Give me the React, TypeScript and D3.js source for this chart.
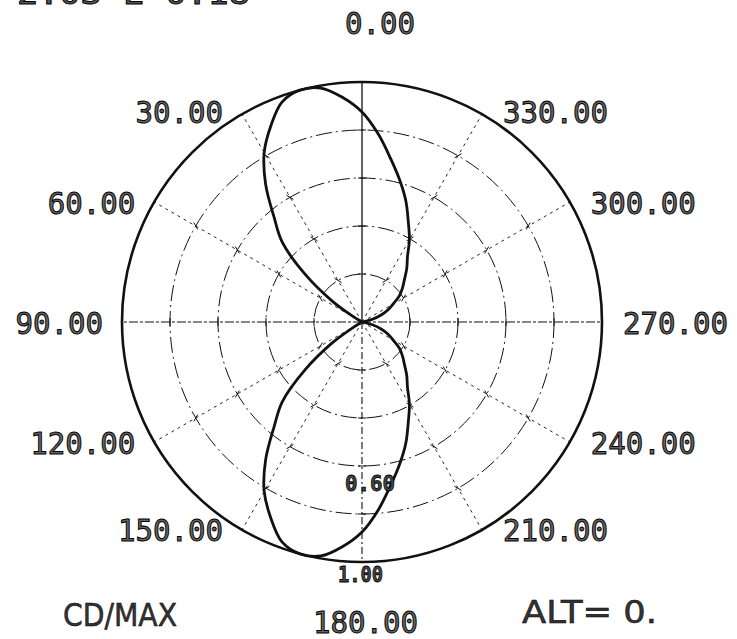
import React from 'react';
import * as d3 from 'd3';

const W = 737;
const H = 639;

// grid rings (fraction of max candela) and spokes (degrees)
const ringValues = [0.2, 0.4, 0.6, 0.8];
const spokeAngles = [0, 30, 60, 90, 120, 150, 180, 210, 240, 270, 300, 330];
const angleLabels = ['0.00', '30.00', '60.00', '90.00', '120.00', '150.00', '180.00', '210.00', '240.00', '270.00', '300.00', '330.00'];

// upper lobe: angle (deg, CCW from top) and CD/MAX
const upperAngles = [-80, -75, -70, -65, -60, -55, -50, -45, -40, -35, -30, -25, -20, -15, -10, -5, 0, 5, 10, 15, 20, 25, 30, 35, 40, 45, 50, 55, 58, 60];
const upperValues = [0, 0.045, 0.085, 0.12, 0.15, 0.19, 0.22, 0.25, 0.29, 0.33, 0.395, 0.457, 0.535, 0.61, 0.69, 0.785, 0.875, 0.94, 0.99, 1.0, 0.975, 0.9, 0.815, 0.7, 0.57, 0.47, 0.31, 0.15, 0.05, 0];

// lower lobe
const lowerAngles = [120, 122, 125, 130, 135, 140, 145, 150, 155, 160, 165, 170, 175, 180, 185, 190, 195, 200, 205, 210, 215, 220, 225, 230, 235, 240, 245, 250, 255, 260];
const lowerValues = [0, 0.05, 0.15, 0.31, 0.47, 0.57, 0.7, 0.815, 0.9, 0.975, 1.0, 0.99, 0.94, 0.875, 0.785, 0.69, 0.61, 0.535, 0.457, 0.395, 0.33, 0.29, 0.25, 0.22, 0.19, 0.15, 0.12, 0.085, 0.045, 0];

const scaleLabels = ['0.60', '1.00'];
const scaleLabelValues = [0.6, 1.0];
const headerText = '2.03   E 0.18';
const footerLeft = 'CD/MAX';
const footerRight = 'ALT= 0.';

const CX = 362;
const CY = 322;
const R = 240;

const rScale = d3.scaleLinear().domain([0, 1]).range([0, R]);
const toRad = (deg: number) => (deg * Math.PI) / 180;
// point in page coords for angle (CCW from top) and value
const pt = (deg: number, v: number): [number, number] => [
  CX - rScale(v) * Math.sin(toRad(deg)),
  CY - rScale(v) * Math.cos(toRad(deg)),
];

const lobe = d3
  .lineRadial<{ a: number; v: number }>()
  .angle((d) => -toRad(d.a))
  .radius((d) => rScale(d.v))
  .curve(d3.curveCatmullRom.alpha(0.5));

const plotFont = '"DejaVu Sans Mono", monospace';

export default function App() {
  const upper = upperAngles.map((a, i) => ({ a, v: upperValues[i] }));
  const lower = lowerAngles.map((a, i) => ({ a, v: lowerValues[i] }));

  const spokeStyle = (a: number) => {
    if (a === 0) return { dash: undefined, w: 1.3 };
    if (a === 180) return { dash: '7 3 2 3', w: 1.1 };
    if (a === 90 || a === 270) return { dash: '9 2 3 2', w: 1.1 };
    return { dash: '3 4', w: 0.9 };
  };

  const labelPos = (a: number, i: number) => {
    const lbl = angleLabels[i];
    const len = lbl.length * 17.5;
    if (a === 0) return { x: 345, y: 22, len };
    if (a === 180) return { x: 313, y: 621, len };
    const [px, py] = pt(a, 1);
    const dy = a === 30 || a === 330 ? -3 : 0;
    if (a < 180) return { x: px - 19 - len, y: py + dy, len };
    return { x: px + 21, y: py + dy, len };
  };

  return (
    <svg width={W} height={H} viewBox={`0 0 ${W} ${H}`} style={{ position: 'absolute', left: 0, top: 0, background: '#fff' }}>
      <rect x={0} y={0} width={W} height={H} fill="#fff" />
      {/* header, cut off at top as in the source scan */}
      <text x={17} y={4} fontFamily={plotFont} fontSize={31} textLength={233} lengthAdjust="spacingAndGlyphs" fill="#555" stroke="#000" strokeWidth={1}>
        {headerText}
      </text>

      {/* spokes */}
      {spokeAngles.map((a) => {
        const [x2, y2] = pt(a, 1);
        const s = spokeStyle(a);
        return <line key={`s${a}`} x1={CX} y1={CY} x2={x2} y2={y2} stroke="#111" strokeWidth={s.w} strokeDasharray={s.dash} />;
      })}

      {/* rings */}
      {ringValues.map((v) => (
        <circle key={`r${v}`} cx={CX} cy={CY} r={rScale(v)} fill="none" stroke="#111" strokeWidth={1} strokeDasharray="16 4 2 4" />
      ))}

      {/* small ticks at ring/spoke crossings */}
      {ringValues.map((v) =>
        spokeAngles.map((a) => {
          const [x, y] = pt(a, v);
          const t = toRad(a);
          const dx = Math.cos(t) * 4;
          const dy = -Math.sin(t) * 4;
          return <line key={`t${v}-${a}`} x1={x - dx} y1={y + dy} x2={x + dx} y2={y - dy} stroke="#111" strokeWidth={1} />;
        })
      )}

      {/* outer circle */}
      <circle cx={CX} cy={CY} r={rScale(1)} fill="none" stroke="#111" strokeWidth={2.6} />

      {/* lobes */}
      <g transform={`translate(${CX},${CY})`}>
        <path d={lobe(upper) || ''} fill="none" stroke="#111" strokeWidth={2.8} />
        <path d={lobe(lower) || ''} fill="none" stroke="#111" strokeWidth={2.8} />
      </g>

      {/* angle labels */}
      {spokeAngles.map((a, i) => {
        const p = labelPos(a, i);
        return (
          <text key={`l${a}`} x={p.x} y={p.y + 11.5} fontFamily={plotFont} fontSize={31} textLength={p.len} lengthAdjust="spacingAndGlyphs" fill="#666" stroke="#000" strokeWidth={1}>
            {angleLabels[i]}
          </text>
        );
      })}

      {/* scale labels */}
      {scaleLabels.map((s, i) => {
        const [, y] = pt(180, scaleLabelValues[i]);
        const isMax = scaleLabelValues[i] === 1;
        return (
          <text key={`sl${s}`} x={isMax ? 338 : 345} y={y + (isMax ? 20 : 25)} fontFamily={plotFont} fontSize={22} fontWeight="bold" textLength={isMax ? 45 : 50} lengthAdjust="spacingAndGlyphs" fill="#444" stroke="#000" strokeWidth={0.8}>
            {s}
          </text>
        );
      })}

      {/* footer */}
      <text x={63} y={626} fontFamily='"DejaVu Sans", sans-serif' fontSize={32} textLength={114} lengthAdjust="spacingAndGlyphs" fill="#333" stroke="#000" strokeWidth={0.5}>
        {footerLeft}
      </text>
      <text x={522} y={623} fontFamily='"DejaVu Sans", sans-serif' fontSize={32} textLength={135} lengthAdjust="spacingAndGlyphs" fill="#333" stroke="#000" strokeWidth={0.5}>
        {footerRight}
      </text>
    </svg>
  );
}
